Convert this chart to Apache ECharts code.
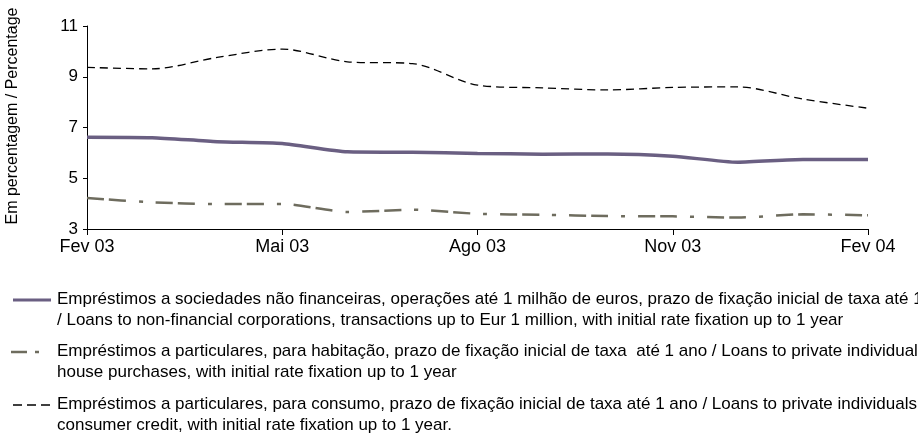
<!DOCTYPE html>
<html>
<head>
<meta charset="utf-8">
<script src="https://cdn.jsdelivr.net/npm/echarts@6/dist/echarts.min.js"></script>
<style>
  html, body { margin: 0; padding: 0; background: #fff; overflow: hidden; }
  #main { width: 918px; height: 444px; }
</style>
</head>
<body>
<div id="main"></div>
<script>
// months Fev 03 .. Fev 04
var months = ['Fev 03', 'Mar 03', 'Abr 03', 'Mai 03', 'Jun 03', 'Jul 03', 'Ago 03',
  'Set 03', 'Out 03', 'Nov 03', 'Dez 03', 'Jan 04', 'Fev 04'];

// empresas, até 1 milhão de euros
var sociedades = [6.62, 6.60, 6.44, 6.37, 6.04, 6.02, 5.98, 5.95, 5.96, 5.87, 5.63, 5.74, 5.74];
// particulares, habitação
var habitacao = [4.22, 4.05, 3.98, 3.99, 3.67, 3.76, 3.60, 3.56, 3.51, 3.50, 3.45, 3.58, 3.54];
// particulares, consumo
var consumo = [9.37, 9.31, 9.76, 10.09, 9.59, 9.52, 8.67, 8.56, 8.48, 8.58, 8.60, 8.12, 7.76];

var legendTexts = [
  'Empréstimos a sociedades não financeiras, operações até 1 milhão de euros, prazo de fixação inicial de taxa até 1 ano\n/ Loans to non-financial corporations, transactions up to Eur 1 million, with initial rate fixation up to 1 year',
  'Empréstimos a particulares, para habitação, prazo de fixação inicial de taxa  até 1 ano / Loans to private individuals for\nhouse purchases, with initial rate fixation up to 1 year',
  'Empréstimos a particulares, para consumo, prazo de fixação inicial de taxa até 1 ano / Loans to private individuals for\nconsumer credit, with initial rate fixation up to 1 year.'
];

var purple = '#6a5f82';
var olive = '#6e6c5e';
var font = 'Liberation Sans, Arial, sans-serif';

var chart = echarts.init(document.getElementById('main'), null, { renderer: 'canvas' });

function legendItem(i, y, icon) {
  return [].concat(icon, [{
    type: 'text',
    x: 57,
    y: y - 11,
    style: {
      text: legendTexts[i],
      font: '17px ' + font,
      fill: '#000',
      lineHeight: 21
    }
  }]);
}

var graphics = []
  .concat(legendItem(0, 300, [
    { type: 'line', shape: { x1: 13, y1: 300, x2: 51, y2: 300 }, style: { stroke: purple, lineWidth: 3 } }
  ]))
  .concat(legendItem(1, 352, [
    { type: 'line', shape: { x1: 11, y1: 352, x2: 27, y2: 352 }, style: { stroke: olive, lineWidth: 2.5 } },
    { type: 'line', shape: { x1: 35, y1: 352, x2: 39, y2: 352 }, style: { stroke: olive, lineWidth: 2.5 } }
  ]))
  .concat(legendItem(2, 405, [
    { type: 'line', shape: { x1: 13, y1: 405, x2: 51, y2: 405 }, style: { stroke: '#000', lineWidth: 1.3, lineDash: [9, 5] } }
  ]))
  .concat([{
    // y axis title
    type: 'text',
    x: 13,
    y: 116,
    rotation: Math.PI / 2,
    style: {
      text: 'Em percentagem / Percentage',
      font: '16px ' + font,
      fill: '#000',
      align: 'center',
      verticalAlign: 'middle'
    }
  }]);

var option = {
  animation: false,
  backgroundColor: '#fff',
  grid: { left: 87, right: 50, top: 26, bottom: 215, containLabel: false },
  xAxis: {
    type: 'category',
    data: months,
    boundaryGap: false,
    axisLine: { lineStyle: { color: '#000', width: 1 } },
    axisTick: { interval: 2, length: 6, lineStyle: { color: '#000' } },
    axisLabel: {
      interval: 2,
      color: '#000',
      fontFamily: font,
      fontSize: 18,
      margin: 9
    },
    splitLine: { show: false }
  },
  yAxis: {
    type: 'value',
    min: 3,
    max: 11,
    interval: 2,
    axisLine: { show: true, lineStyle: { color: '#000', width: 1 } },
    axisTick: { show: true, length: 4, lineStyle: { color: '#000' } },
    axisLabel: { color: '#000', fontFamily: font, fontSize: 17, margin: 9 },
    splitLine: { show: false }
  },
  series: [
    {
      name: 'sociedades',
      type: 'line',
      data: sociedades,
      symbol: 'none',
      smooth: 0.2,
      lineStyle: { color: purple, width: 3.5 }
    },
    {
      name: 'habitacao',
      type: 'line',
      data: habitacao,
      symbol: 'none',
      smooth: 0.2,
      lineStyle: { color: olive, width: 2.5, type: [17, 5, 17, 13, 4, 13] }
    },
    {
      name: 'consumo',
      type: 'line',
      data: consumo,
      symbol: 'none',
      smooth: 0.3,
      lineStyle: { color: '#000', width: 1.3, type: [8, 5] }
    }
  ],
  graphic: graphics
};

chart.setOption(option);
</script>
</body>
</html>
